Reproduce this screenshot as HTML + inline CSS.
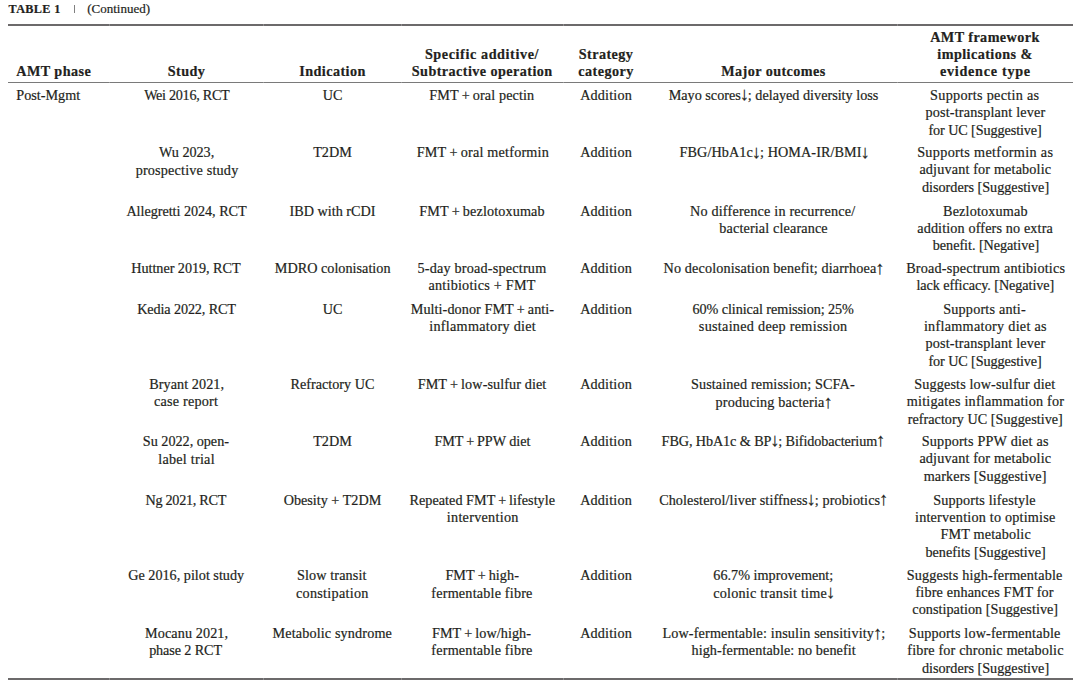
<!DOCTYPE html>
<html><head><meta charset="utf-8"><style>
html,body{margin:0;padding:0;background:#fff;}
body{width:1080px;height:687px;position:relative;overflow:hidden;font-family:"Liberation Serif",serif;color:#231f20;-webkit-text-stroke:0.2px #231f20;}
.r,.b{position:absolute;white-space:nowrap;font-size:14.2px;line-height:17.35px;height:17.35px;}
.r{letter-spacing:0.0px;}
.b{font-weight:bold;letter-spacing:0.42px;}
.c{width:300px;text-align:center;}
.ar{font-size:18.5px;line-height:0;vertical-align:-0.5px;margin:0 -1.1px;}
.rule{position:absolute;left:8.3px;width:1065px;}
.cap{position:absolute;font-size:11px;line-height:14px;white-space:nowrap;}
</style></head><body>
<div class="cap" style="left:8.6px;top:2.4px;font-size:12.2px;font-weight:bold;letter-spacing:0.35px">TABLE 1</div>
<div style="position:absolute;left:73.5px;top:5px;width:1.3px;height:8px;background:#808080;"></div>
<div class="cap" style="left:87.2px;top:2.1px;font-size:13px;">(Continued)</div>
<div class="rule" style="top:24px;height:2px;background:#6c6a6b;"></div>
<div class="rule" style="top:82px;height:1px;background:#7a7a7a;"></div>
<div class="rule" style="top:678px;height:2px;background:#6c6a6b;"></div>
<div style="position:absolute;left:109px;top:24px;width:1px;height:2px;background:#8e8c8d;"></div>
<div style="position:absolute;left:109px;top:82px;width:1px;height:1px;background:#999999;"></div>
<div style="position:absolute;left:109px;top:678px;width:1px;height:2px;background:#8e8c8d;"></div>
<div style="position:absolute;left:263px;top:24px;width:1px;height:2px;background:#8e8c8d;"></div>
<div style="position:absolute;left:263px;top:82px;width:1px;height:1px;background:#999999;"></div>
<div style="position:absolute;left:263px;top:678px;width:1px;height:2px;background:#8e8c8d;"></div>
<div style="position:absolute;left:401px;top:24px;width:1px;height:2px;background:#8e8c8d;"></div>
<div style="position:absolute;left:401px;top:82px;width:1px;height:1px;background:#999999;"></div>
<div style="position:absolute;left:401px;top:678px;width:1px;height:2px;background:#8e8c8d;"></div>
<div style="position:absolute;left:563px;top:24px;width:1px;height:2px;background:#8e8c8d;"></div>
<div style="position:absolute;left:563px;top:82px;width:1px;height:1px;background:#999999;"></div>
<div style="position:absolute;left:563px;top:678px;width:1px;height:2px;background:#8e8c8d;"></div>
<div style="position:absolute;left:897px;top:24px;width:1px;height:2px;background:#8e8c8d;"></div>
<div style="position:absolute;left:897px;top:82px;width:1px;height:1px;background:#999999;"></div>
<div style="position:absolute;left:897px;top:678px;width:1px;height:2px;background:#8e8c8d;"></div>
<div class="b" style="left:16.30px;top:63.20px">AMT phase</div>
<div class="b c" style="left:36.50px;top:63.20px">Study</div>
<div class="b c" style="left:182.50px;top:63.20px">Indication</div>
<div class="b" style="left:424.88px;top:45.90px;letter-spacing:0.585px">Specific additive/</div>
<div class="b c" style="left:332.20px;top:63.25px">Subtractive operation</div>
<div class="b c" style="left:456.00px;top:45.90px">Strategy</div>
<div class="b c" style="left:456.00px;top:63.25px">category</div>
<div class="b c" style="left:623.50px;top:63.20px">Major outcomes</div>
<div class="b c" style="left:835.00px;top:28.60px">AMT framework</div>
<div class="b c" style="left:835.00px;top:45.95px">implications &amp;</div>
<div class="b" style="left:939.98px;top:63.30px;letter-spacing:0.720px">evidence type</div>
<div class="r" style="left:16.30px;top:86.90px">Post-Mgmt</div>
<div class="r" style="left:144.14px;top:86.90px;letter-spacing:-0.292px">Wei 2016, RCT</div>
<div class="r c" style="left:182.50px;top:86.90px">UC</div>
<div class="r" style="left:429.32px;top:86.90px;letter-spacing:0.106px">FMT + oral pectin</div>
<div class="r" style="left:580.17px;top:86.90px;letter-spacing:0.171px">Addition</div>
<div class="r" style="left:668.69px;top:86.90px;letter-spacing:0.000px">Mayo scores<span class="ar">↓</span>; delayed diversity loss</div>
<div class="r" style="left:930.08px;top:86.90px;letter-spacing:0.288px">Supports pectin as</div>
<div class="r" style="left:925.38px;top:104.25px;letter-spacing:0.185px">post-transplant lever</div>
<div class="r" style="left:928.47px;top:121.60px;letter-spacing:-0.100px">for UC [Suggestive]</div>
<div class="r" style="left:159.10px;top:144.00px;letter-spacing:-0.043px">Wu 2023,</div>
<div class="r" style="left:135.66px;top:162.35px;letter-spacing:0.181px">prospective study</div>
<div class="r c" style="left:182.50px;top:144.00px">T2DM</div>
<div class="r" style="left:416.70px;top:144.00px;letter-spacing:0.200px">FMT + oral metformin</div>
<div class="r" style="left:580.17px;top:144.00px;letter-spacing:0.171px">Addition</div>
<div class="r" style="left:679.52px;top:144.00px;letter-spacing:0.087px">FBG/HbA1c<span class="ar">↓</span>; HOMA-IR/BMI<span class="ar">↓</span></div>
<div class="r" style="left:917.16px;top:144.00px;letter-spacing:0.325px">Supports metformin as</div>
<div class="r" style="left:919.38px;top:161.35px;letter-spacing:0.157px">adjuvant for metabolic</div>
<div class="r" style="left:921.96px;top:178.70px;letter-spacing:-0.005px">disorders [Suggestive]</div>
<div class="r" style="left:126.40px;top:202.70px;letter-spacing:-0.037px">Allegretti 2024, RCT</div>
<div class="r c" style="left:182.50px;top:202.70px">IBD with rCDI</div>
<div class="r" style="left:419.26px;top:202.70px;letter-spacing:0.124px">FMT + bezlotoxumab</div>
<div class="r" style="left:580.17px;top:202.70px;letter-spacing:0.171px">Addition</div>
<div class="r" style="left:689.97px;top:202.70px;letter-spacing:0.189px">No difference in recurrence/</div>
<div class="r" style="left:719.33px;top:220.05px;letter-spacing:0.133px">bacterial clearance</div>
<div class="r" style="left:943.02px;top:202.70px;letter-spacing:0.164px">Bezlotoxumab</div>
<div class="r" style="left:917.23px;top:220.05px;letter-spacing:0.135px">addition offers no extra</div>
<div class="r" style="left:932.82px;top:237.40px;letter-spacing:-0.044px">benefit. [Negative]</div>
<div class="r" style="left:131.32px;top:260.00px;letter-spacing:-0.044px">Huttner 2019, RCT</div>
<div class="r" style="left:274.77px;top:260.00px;letter-spacing:0.019px">MDRO colonisation</div>
<div class="r" style="left:417.53px;top:260.00px;letter-spacing:0.200px">5-day broad-spectrum</div>
<div class="r" style="left:428.50px;top:277.35px;letter-spacing:0.219px">antibiotics + FMT</div>
<div class="r" style="left:580.17px;top:260.00px;letter-spacing:0.171px">Addition</div>
<div class="r" style="left:663.56px;top:260.00px;letter-spacing:0.144px">No decolonisation benefit; diarrhoea<span class="ar">↑</span></div>
<div class="r" style="left:906.17px;top:260.00px;letter-spacing:0.192px">Broad-spectrum antibiotics</div>
<div class="r" style="left:916.48px;top:277.35px;letter-spacing:-0.067px">lack efficacy. [Negative]</div>
<div class="r" style="left:137.25px;top:300.60px;letter-spacing:-0.121px">Kedia 2022, RCT</div>
<div class="r c" style="left:182.50px;top:300.60px">UC</div>
<div class="r" style="left:410.70px;top:300.60px;letter-spacing:0.073px">Multi-donor FMT + anti-</div>
<div class="r" style="left:429.16px;top:317.95px;letter-spacing:0.288px">inflammatory diet</div>
<div class="r" style="left:580.17px;top:300.60px;letter-spacing:0.171px">Addition</div>
<div class="r" style="left:692.53px;top:300.60px;letter-spacing:-0.081px">60% clinical remission; 25%</div>
<div class="r" style="left:698.86px;top:317.95px;letter-spacing:0.283px">sustained deep remission</div>
<div class="r" style="left:943.20px;top:300.60px;letter-spacing:0.192px">Supports anti-</div>
<div class="r" style="left:923.88px;top:317.95px;letter-spacing:0.279px">inflammatory diet as</div>
<div class="r" style="left:925.38px;top:335.30px;letter-spacing:0.185px">post-transplant lever</div>
<div class="r" style="left:928.47px;top:352.65px;letter-spacing:-0.100px">for UC [Suggestive]</div>
<div class="r" style="left:149.15px;top:376.00px;letter-spacing:0.073px">Bryant 2021,</div>
<div class="r" style="left:153.88px;top:393.35px;letter-spacing:0.220px">case report</div>
<div class="r c" style="left:182.50px;top:376.00px">Refractory UC</div>
<div class="r" style="left:417.70px;top:376.00px;letter-spacing:0.090px">FMT + low-sulfur diet</div>
<div class="r" style="left:580.17px;top:376.00px;letter-spacing:0.171px">Addition</div>
<div class="r" style="left:690.92px;top:376.00px;letter-spacing:0.128px">Sustained remission; SCFA-</div>
<div class="r" style="left:715.48px;top:394.35px;letter-spacing:0.172px">producing bacteria<span class="ar">↑</span></div>
<div class="r" style="left:914.33px;top:376.00px;letter-spacing:0.126px">Suggests low-sulfur diet</div>
<div class="r" style="left:906.85px;top:393.35px;letter-spacing:0.204px">mitigates inflammation for</div>
<div class="r" style="left:907.68px;top:410.70px;letter-spacing:0.028px">refractory UC [Suggestive]</div>
<div class="r" style="left:142.84px;top:432.80px;letter-spacing:-0.015px">Su 2022, open-</div>
<div class="r" style="left:158.22px;top:451.15px;letter-spacing:0.240px">label trial</div>
<div class="r c" style="left:182.50px;top:432.80px">T2DM</div>
<div class="r" style="left:434.39px;top:432.80px;letter-spacing:-0.038px">FMT + PPW diet</div>
<div class="r" style="left:580.17px;top:432.80px;letter-spacing:0.171px">Addition</div>
<div class="r" style="left:661.61px;top:432.80px;letter-spacing:-0.097px">FBG, HbA1c &amp; BP<span class="ar">↓</span>; Bifidobacterium<span class="ar">↑</span></div>
<div class="r" style="left:921.74px;top:432.80px;letter-spacing:0.189px">Supports PPW diet as</div>
<div class="r" style="left:919.38px;top:450.15px;letter-spacing:0.157px">adjuvant for metabolic</div>
<div class="r" style="left:923.72px;top:467.50px;letter-spacing:0.095px">markers [Suggestive]</div>
<div class="r" style="left:145.52px;top:491.80px;letter-spacing:-0.282px">Ng 2021, RCT</div>
<div class="r c" style="left:182.50px;top:491.80px">Obesity + T2DM</div>
<div class="r" style="left:409.53px;top:491.80px;letter-spacing:0.026px">Repeated FMT + lifestyle</div>
<div class="r" style="left:446.81px;top:509.15px;letter-spacing:0.273px">intervention</div>
<div class="r" style="left:580.17px;top:491.80px;letter-spacing:0.171px">Addition</div>
<div class="r" style="left:659.14px;top:491.80px;letter-spacing:0.095px">Cholesterol/liver stiffness<span class="ar">↓</span>; probiotics<span class="ar">↑</span></div>
<div class="r" style="left:933.24px;top:491.80px;letter-spacing:0.159px">Supports lifestyle</div>
<div class="r" style="left:915.02px;top:509.15px;letter-spacing:0.204px">intervention to optimise</div>
<div class="r" style="left:940.50px;top:525.50px;letter-spacing:0.150px">FMT metabolic</div>
<div class="r" style="left:925.41px;top:543.85px;letter-spacing:0.010px">benefits [Suggestive]</div>
<div class="r" style="left:128.26px;top:566.50px;letter-spacing:0.000px">Ge 2016, pilot study</div>
<div class="r" style="left:296.91px;top:566.50px;letter-spacing:0.127px">Slow transit</div>
<div class="r" style="left:295.91px;top:584.85px;letter-spacing:0.291px">constipation</div>
<div class="r" style="left:445.38px;top:566.50px;letter-spacing:0.070px">FMT + high-</div>
<div class="r" style="left:431.34px;top:584.85px;letter-spacing:0.188px">fermentable fibre</div>
<div class="r" style="left:580.17px;top:566.50px;letter-spacing:0.171px">Addition</div>
<div class="r" style="left:713.29px;top:566.50px;letter-spacing:0.012px">66.7% improvement;</div>
<div class="r" style="left:713.20px;top:584.85px;letter-spacing:0.215px">colonic transit time<span class="ar">↓</span></div>
<div class="r" style="left:906.64px;top:566.50px;letter-spacing:0.167px">Suggests high-fermentable</div>
<div class="r" style="left:915.46px;top:583.85px;letter-spacing:0.152px">fibre enhances FMT for</div>
<div class="r" style="left:912.29px;top:601.20px;letter-spacing:0.050px">constipation [Suggestive]</div>
<div class="r" style="left:145.02px;top:625.00px;letter-spacing:0.100px">Mocanu 2021,</div>
<div class="r" style="left:149.15px;top:642.35px;letter-spacing:-0.110px">phase 2 RCT</div>
<div class="r" style="left:272.48px;top:625.00px;letter-spacing:0.141px">Metabolic syndrome</div>
<div class="r" style="left:431.97px;top:625.00px;letter-spacing:0.071px">FMT + low/high-</div>
<div class="r" style="left:431.34px;top:642.35px;letter-spacing:0.188px">fermentable fibre</div>
<div class="r" style="left:580.17px;top:625.00px;letter-spacing:0.171px">Addition</div>
<div class="r" style="left:662.45px;top:625.00px;letter-spacing:0.143px">Low-fermentable: insulin sensitivity<span class="ar">↑</span>;</div>
<div class="r" style="left:691.54px;top:642.35px;letter-spacing:0.067px">high-fermentable: no benefit</div>
<div class="r" style="left:908.83px;top:625.00px;letter-spacing:0.161px">Supports low-fermentable</div>
<div class="r" style="left:907.27px;top:642.35px;letter-spacing:0.146px">fibre for chronic metabolic</div>
<div class="r" style="left:921.96px;top:659.70px;letter-spacing:-0.005px">disorders [Suggestive]</div>
</body></html>
